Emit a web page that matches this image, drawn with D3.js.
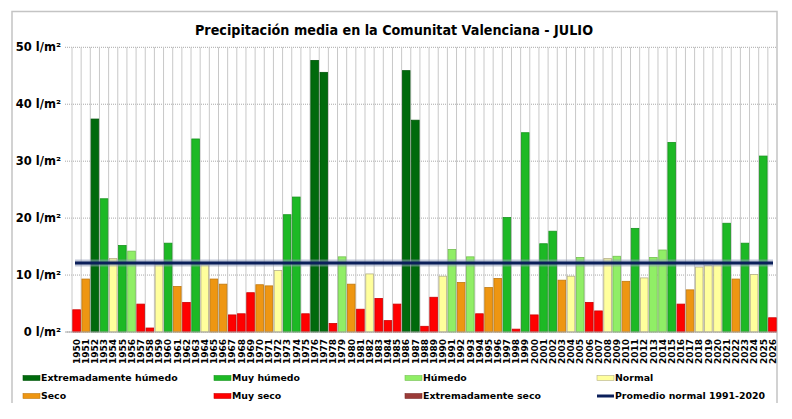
<!DOCTYPE html>
<html>
<head>
<meta charset="utf-8">
<script src="https://cdn.jsdelivr.net/npm/d3@7.9.0/dist/d3.min.js"></script>
<style>
  body { margin: 0; background: #fff; }
  text { font-family: "DejaVu Sans", Verdana, sans-serif; font-weight: bold; fill: #000; }
</style>
</head>
<body>
<div id="chart"></div>
<script>
// July precipitation, 1950-2026
const years = d3.range(1950, 2027).map(String);

const values = [
  3.9, 9.3, 37.4, 23.4, 12.9, 15.2, 14.2, 4.9, 0.7, 11.9,
  15.6, 8.0, 5.2, 33.9, 11.8, 9.3, 8.4, 3.0, 3.2, 6.9,
  8.3, 8.1, 10.8, 20.6, 23.7, 3.2, 47.7, 45.6, 1.5, 13.2,
  8.4, 4.0, 10.2, 5.9, 2.0, 4.9, 45.9, 37.2, 1.0, 6.1,
  9.8, 14.5, 8.7, 13.2, 3.2, 7.8, 9.4, 20.1, 0.5, 35.0,
  3.0, 15.5, 17.7, 9.1, 9.8, 13.1, 5.2, 3.7, 12.9, 13.3,
  8.9, 18.2, 9.5, 13.1, 14.4, 33.3, 4.9, 7.4, 11.4, 11.7,
  11.8, 19.1, 9.3, 15.6, 10.1, 30.9, 2.5
];

// EH extremadamente húmedo, MH muy húmedo, H húmedo, N normal, S seco, MS muy seco, ES extremadamente seco
const classes = [
  'MS', 'S', 'EH', 'MH', 'N', 'MH', 'H', 'MS', 'MS', 'N',
  'MH', 'S', 'MS', 'MH', 'N', 'S', 'S', 'MS', 'MS', 'MS',
  'S', 'S', 'N', 'MH', 'MH', 'MS', 'EH', 'EH', 'MS', 'H',
  'S', 'MS', 'N', 'MS', 'MS', 'MS', 'EH', 'EH', 'MS', 'MS',
  'N', 'H', 'S', 'H', 'MS', 'S', 'S', 'MH', 'MS', 'MH',
  'MS', 'MH', 'MH', 'S', 'N', 'H', 'MS', 'MS', 'N', 'H',
  'S', 'MH', 'N', 'H', 'H', 'MH', 'MS', 'S', 'N', 'N',
  'N', 'MH', 'S', 'MH', 'N', 'MH', 'MS'
];

const classKeys = ['EH', 'MH', 'H', 'N', 'S', 'MS', 'ES'];
const classNames = ['Extremadamente húmedo', 'Muy húmedo', 'Húmedo', 'Normal', 'Seco', 'Muy seco', 'Extremadamente seco'];
const classColors = ['#006a0c', '#1db925', '#90ee66', '#ffff9c', '#ee9612', '#ff0000', '#9b3b38'];

const normalValue = 12.1;
const normalLabel = 'Promedio normal 1991-2020';
const yTicks = [0, 10, 20, 30, 40, 50];

const width = 792;
const height = 419;

const svg = d3.select('#chart')
  .append('svg')
  .attr('width', width)
  .attr('height', height);

// frame
svg.append('path')
  .attr('d', 'M12,403 V11.5 H777 V403')
  .attr('fill', 'none')
  .attr('stroke', '#c4c4c4')
  .attr('stroke-width', 1.5);

svg.append('text')
  .attr('x', 394)
  .attr('y', 35)
  .attr('text-anchor', 'middle')
  .attr('font-size', 14)
  .attr('textLength', 398)
  .attr('lengthAdjust', 'spacingAndGlyphs')
  .text('Precipitación media en la Comunitat Valenciana - JULIO');

const xScale = d3.scaleBand()
  .domain(years)
  .range([72, 777])
  .paddingInner(0.17)
  .paddingOuter(0.085);

const yScale = d3.scaleLinear().domain([0, 50]).range([332, 47.3]);

const color = d3.scaleOrdinal().domain(classKeys).range(classColors);

// horizontal dotted grid
svg.append('g')
  .selectAll('line')
  .data(yTicks)
  .join('line')
  .attr('x1', 65)
  .attr('x2', 777)
  .attr('y1', (d) => yScale(d))
  .attr('y2', (d) => yScale(d))
  .attr('stroke', '#a8a8a8')
  .attr('stroke-dasharray', '1,1');

// vertical grid lines between bars
const step = xScale.step();
const gap = step - xScale.bandwidth();
svg.append('g')
  .selectAll('line')
  .data(years)
  .join('line')
  .attr('x1', (d) => xScale(d) - gap / 2)
  .attr('x2', (d) => xScale(d) - gap / 2)
  .attr('y1', yScale(50))
  .attr('y2', yScale(0))
  .attr('stroke', '#c8c8c8');

// y labels
svg.append('g')
  .selectAll('text')
  .data(yTicks)
  .join('text')
  .attr('x', 61)
  .attr('y', (d) => yScale(d))
  .attr('dy', '0.36em')
  .attr('text-anchor', 'end')
  .attr('font-size', 11.5)
  .text((d) => d + ' l/m²');

// bars
const bars = years.map((y, i) => ({ year: y, value: values[i], cls: classes[i] }));

svg.append('g')
  .selectAll('rect')
  .data(bars)
  .join('rect')
  .attr('x', (d) => xScale(d.year))
  .attr('width', xScale.bandwidth())
  .attr('y', (d) => yScale(d.value))
  .attr('height', (d) => yScale(0) - yScale(d.value))
  .attr('fill', (d) => color(d.cls))
  .attr('stroke', (d) => d.cls === 'N' ? '#b5b08a' : d3.color(color(d.cls)).darker(0.6))
  .attr('stroke-width', 0.8);

svg.append('line')
  .attr('x1', 66).attr('x2', 777)
  .attr('y1', yScale(0)).attr('y2', yScale(0))
  .attr('stroke', '#a8a8a8');

// normal line with soft halo
const ny = yScale(normalValue);
svg.append('line')
  .attr('x1', 75).attr('x2', 773)
  .attr('y1', ny).attr('y2', ny)
  .attr('stroke', '#8e9ab8')
  .attr('stroke-opacity', 0.55)
  .attr('stroke-width', 7);
svg.append('line')
  .attr('x1', 75).attr('x2', 773)
  .attr('y1', ny).attr('y2', ny)
  .attr('stroke', '#0b1f5a')
  .attr('stroke-width', 3);

// x labels
svg.append('g')
  .selectAll('text')
  .data(years)
  .join('text')
  .attr('transform', (d) => `translate(${xScale(d) + xScale.bandwidth() / 2},339) rotate(-90)`)
  .attr('dy', '0.36em')
  .attr('text-anchor', 'end')
  .attr('font-size', 9)
  .text((d) => d);

// legend
const legendItems = [
  { key: 'EH', x: 23, y: 378 },
  { key: 'MH', x: 214, y: 378 },
  { key: 'H', x: 405, y: 378 },
  { key: 'N', x: 597, y: 378 },
  { key: 'S', x: 23, y: 396 },
  { key: 'MS', x: 214, y: 396 },
  { key: 'ES', x: 405, y: 396 }
];

const legend = svg.append('g');
legendItems.forEach((it) => {
  const i = classKeys.indexOf(it.key);
  legend.append('rect')
    .attr('x', it.x)
    .attr('y', it.y - 2.5)
    .attr('width', 17)
    .attr('height', 5)
    .attr('fill', classColors[i])
    .attr('stroke', it.key === 'N' ? '#b5b08a' : d3.color(classColors[i]).darker(0.6))
    .attr('stroke-width', 0.6);
  legend.append('text')
    .attr('x', it.x + 18)
    .attr('y', it.y)
    .attr('dy', '0.36em')
    .attr('font-size', 9.4)
    .text(classNames[i]);
});

legend.append('line')
  .attr('x1', 597).attr('x2', 614)
  .attr('y1', 396).attr('y2', 396)
  .attr('stroke', '#0b1f5a')
  .attr('stroke-width', 3);
legend.append('text')
  .attr('x', 615)
  .attr('y', 396)
  .attr('dy', '0.36em')
  .attr('font-size', 9.4)
  .text(normalLabel);
</script>
</body>
</html>
